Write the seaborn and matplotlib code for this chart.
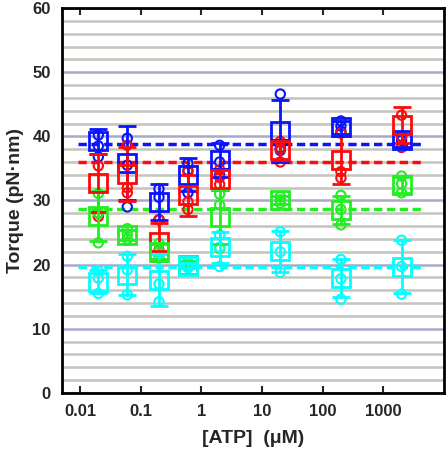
import numpy as np
import pandas as pd
import matplotlib
matplotlib.use("Agg")
import matplotlib.pyplot as plt
import seaborn as sns

# ATP concentrations (uM)
atp = [0.02, 0.06, 0.2, 0.6, 2, 20, 200, 2000]

series = ["blue", "red", "green", "cyan"]
colors = {"blue": "#0a14ff", "red": "#ff0a0a", "green": "#22ee22", "cyan": "#00ffff"}

# mean torque and SD per concentration
blue_mean = [39.2, 35.8, 29.7, 34.0, 36.3, 40.8, 41.4, 39.4]
blue_sd = [2.0, 5.8, 2.8, 2.6, 2.6, 4.8, 1.0, 1.0]
red_mean = [32.7, 34.1, 23.5, 30.8, 33.3, 37.9, 36.3, 41.7]
red_sd = [4.5, 4.2, 3.0, 3.2, 1.6, 1.6, 3.7, 2.8]
green_mean = [27.6, 24.6, 22.0, 20.0, 27.4, 30.1, 28.5, 32.4]
green_sd = [3.9, 0.8, 1.2, 0.5, 4.2, 0.6, 2.2, 1.2]
cyan_mean = [17.3, 18.4, 17.6, 19.8, 22.7, 22.1, 17.9, 19.7]
cyan_sd = [1.8, 3.2, 4.0, 0.4, 2.4, 3.2, 3.0, 4.2]

# individual molecules (three per concentration)
blue_pts = [[40.2, 38.5, 36.8], [39.7, 35.5, 29.0], [31.8, 30.5, 27.0], [35.8, 34.7, 31.2],
            [38.6, 36.0, 34.0], [46.6, 38.2, 37.8], [42.4, 41.6, 40.8], [40.0, 39.4, 38.3]]
red_pts = [[35.4, 28.0, 27.5], [38.6, 32.0, 31.2], [27.0, 22.2, 21.5], [34.5, 29.8, 28.6],
           [34.8, 33.6, 32.5], [39.2, 38.0, 36.0], [40.5, 34.5, 33.5], [43.3, 39.9, 38.3]]
green_pts = [[31.1, 28.0, 23.4], [25.6, 24.8, 24.0], [23.3, 22.0, 21.0], [20.4, 20.0, 19.6],
             [31.0, 29.3, 22.5], [30.6, 30.1, 29.6], [30.8, 28.6, 26.2], [33.8, 32.6, 31.2]]
cyan_pts = [[19.0, 17.9, 15.5], [21.3, 19.2, 15.3], [21.5, 17.0, 14.2], [20.1, 19.8, 19.5],
            [24.6, 22.7, 19.7], [25.1, 22.0, 18.8], [20.8, 17.8, 14.6], [23.8, 19.7, 15.4]]

# overall average torque (dashed lines)
overall = {"blue": 38.8, "red": 36.0, "green": 28.6, "cyan": 19.7}

means = {"blue": blue_mean, "red": red_mean, "green": green_mean, "cyan": cyan_mean}
sds = {"blue": blue_sd, "red": red_sd, "green": green_sd, "cyan": cyan_sd}
pts = {"blue": blue_pts, "red": red_pts, "green": green_pts, "cyan": cyan_pts}

rows = []
for s in series:
    for c, vals in zip(atp, pts[s]):
        for v in vals:
            rows.append({"atp": c, "torque": v, "series": s})
df = pd.DataFrame(rows)

sns.set_style("white")
plt.rcParams["font.family"] = ["Liberation Sans", "DejaVu Sans"]
plt.rcParams["font.weight"] = "bold"

fig = plt.figure(figsize=(4.48, 4.49), dpi=100)
ax = fig.add_axes([0.138, 0.125, 0.853, 0.857])

for s in series:
    col = colors[s]
    sns.scatterplot(data=df[df.series == s], x="atp", y="torque", ax=ax,
                    marker="o", s=45, facecolors="none", edgecolor=col,
                    linewidth=1.5, legend=False, zorder=3)
    ax.errorbar(atp, means[s], yerr=sds[s], fmt="s", ms=13, mfc="none",
                mec=col, mew=2, ecolor=col, elinewidth=2, capsize=6.5,
                capthick=2, zorder=4)
    ax.hlines(overall[s], 0.0093, 4400, colors=col, linestyles=(0, (2.4, 1.3)),
              linewidth=2.5, zorder=2)

ax.set_xscale("log")
ax.set_xlim(0.005, 10000)
ax.set_ylim(0, 60)
ax.set_xticks([0.01, 0.1, 1, 10, 100, 1000])
ax.set_xticklabels(["0.01", "0.1", "1", "10", "100", "1000"])
ax.xaxis.set_minor_locator(matplotlib.ticker.NullLocator())
ax.set_yticks(range(0, 61, 10))
ax.set_yticks(range(0, 61, 2), minor=True)
ax.grid(True, axis="y", which="minor", color="#c4c4bc", linewidth=1.8, zorder=0)
ax.grid(True, axis="y", which="major", color="#a8a8c8", linewidth=1.8, zorder=0)
ax.grid(False, axis="x")
ax.set_axisbelow(True)

ax.tick_params(axis="x", which="major", direction="in", top=True, bottom=True,
               length=5, width=1.5, labelsize=12, pad=8)
ax.tick_params(axis="y", which="both", length=0, labelsize=12, pad=8)
for t in ax.get_xticklabels() + ax.get_yticklabels():
    t.set_fontweight("bold")
for sp in ax.spines.values():
    sp.set_linewidth(2)
    sp.set_color("black")

ax.set_xlabel("[ATP]  (\u03bcM)", fontsize=14, fontweight="bold", labelpad=8)
ax.set_ylabel("Torque (pN\u00b7nm)", fontsize=14, fontweight="bold", labelpad=6)

fig.savefig("out.png", dpi=100)
